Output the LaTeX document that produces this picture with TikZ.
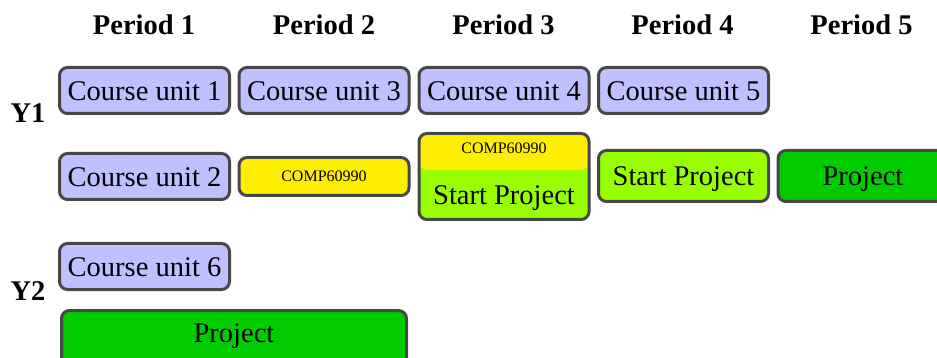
\documentclass[tikz,border=0pt]{standalone}
\usepackage{fontspec}
\setmainfont{Liberation Serif}
\definecolor{lav}{HTML}{C0C0FF}
\definecolor{cyel}{HTML}{FFEE00}
\definecolor{lgrn}{HTML}{99FF00}
\definecolor{dgrn}{HTML}{00CC00}
\definecolor{bord}{HTML}{474747}
\tikzset{
  box/.style={draw=bord, line width=3pt, rounded corners=8pt, inner sep=0pt,
    minimum width=170pt, minimum height=46pt, text height=19.4pt, text depth=0pt,
    font=\fontsize{28.5}{30}\selectfont},
  small/.style={font=\fontsize{16}{18}\selectfont, text height=10.6pt, text depth=0pt},
  hdr/.style={anchor=base, inner sep=0pt, font=\fontsize{28.5}{30}\selectfont\bfseries},
  txt/.style={inner sep=0pt, text height=19.4pt, text depth=0pt, font=\fontsize{28.5}{30}\selectfont},
}
\begin{document}
\begin{tikzpicture}[x=1pt,y=-1pt]
\useasboundingbox (0,0) rectangle (937,358);
\clip (0,0) rectangle (937,358);
% headers
\node[hdr] (h1) at (144,35) {Period 1};
\node[hdr] (h2) at (324,35) {Period 2};
\node[hdr] (h3) at (503.5,35) {Period 3};
\node[hdr] (h4) at (682.5,35) {Period 4};
\node[hdr] (h5) at (861.5,35) {Period 5};
\node[hdr] (y1) at (28,123) {Y1};
\node[hdr] (y2) at (28,300) {Y2};
% Y1 row 1
\node[box, fill=lav] (cu1) at (144.5,90.5) {Course unit 1};
\node[box, fill=lav] (cu3) at (324,90.5) {Course unit 3};
\node[box, fill=lav] (cu4) at (504,90.5) {Course unit 4};
\node[box, fill=lav] (cu5) at (683.5,90.5) {Course unit 5};
% Y1 row 2
\node[box, fill=lav] (cu2) at (144.5,176.5) {Course unit 2};
\node[box, fill=cyel, minimum height=38pt, small] (c2) at (324,176.5) {COMP60990};
\node[box, fill=lgrn, minimum height=86pt,
  path picture={\fill[cyel] (path picture bounding box.north west) rectangle ([yshift=-36.5pt]path picture bounding box.north east);}] (p3) at (504,176.5) {};
\node[txt, small] (p3a) at (504,148.5) {COMP60990};
\node[txt] (p3b) at (504,194.5) {Start Project};
\node[box, fill=lgrn, minimum height=51pt] (sp4) at (683.5,176) {Start Project};
\node[box, fill=dgrn, minimum height=51pt] (pr5) at (863,176) {Project};
% Y2
\node[box, fill=lav] (cu6) at (144.5,266.5) {Course unit 6};
\node[box, fill=dgrn, minimum width=345pt, minimum height=57pt, text depth=13.4pt] (pry2) at (234,339) {Project};
\end{tikzpicture}
\end{document}
